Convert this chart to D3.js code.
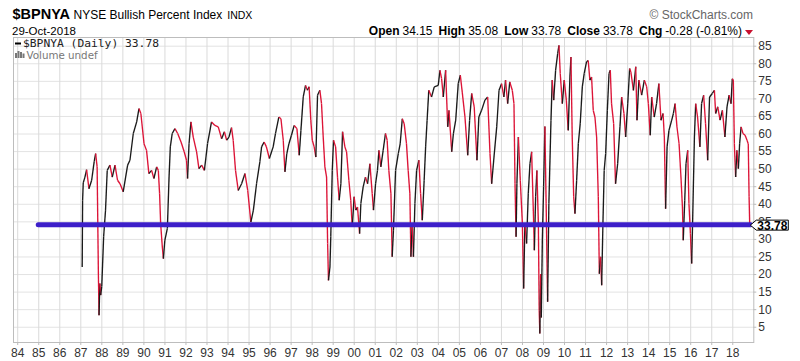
<!DOCTYPE html>
<html>
<head>
<meta charset="utf-8">
<script src="https://cdn.jsdelivr.net/npm/d3@7"></script>
<style>
  body { margin: 0; background: #fff; }
  svg { display: block; font-family: "Liberation Sans", Arial, sans-serif; }
</style>
</head>
<body>
<div id="chart"></div>
<script>
// Data (decimal years)
const dates = [
  1987.09, 1987.11, 1987.14, 1987.22, 1987.30, 1987.41, 1987.54, 1987.66, 1987.73, 1987.80,
  1987.86, 1987.89, 1987.93, 1987.97, 1988.02, 1988.11, 1988.20, 1988.28, 1988.41, 1988.52,
  1988.65, 1988.77, 1988.89, 1989.04, 1989.25, 1989.36, 1989.52, 1989.68, 1989.79, 1989.88,
  1990.03, 1990.15, 1990.26, 1990.39, 1990.50, 1990.63, 1990.71, 1990.77, 1990.82, 1990.90,
  1990.95, 1991.02, 1991.14, 1991.22, 1991.28, 1991.37, 1991.50, 1991.63, 1991.79, 1991.94,
  1992.05, 1992.10, 1992.17, 1992.26, 1992.37, 1992.53, 1992.64, 1992.77, 1992.90, 1993.05,
  1993.24, 1993.40, 1993.56, 1993.72, 1993.85, 1993.96, 1994.07, 1994.19, 1994.27, 1994.38,
  1994.51, 1994.67, 1994.83, 1994.96, 1995.11, 1995.23, 1995.38, 1995.54, 1995.62, 1995.74,
  1995.85, 1995.99, 1996.17, 1996.28, 1996.44, 1996.54, 1996.65, 1996.73, 1996.82, 1996.92,
  1997.04, 1997.17, 1997.30, 1997.41, 1997.49, 1997.60, 1997.71, 1997.80, 1997.88, 1997.96,
  1998.03, 1998.12, 1998.20, 1998.28, 1998.39, 1998.47, 1998.55, 1998.63, 1998.71, 1998.76,
  1998.80, 1998.87, 1998.91, 1998.98, 1999.04, 1999.14, 1999.23, 1999.31, 1999.39, 1999.47,
  1999.58, 1999.66, 1999.77, 1999.86, 1999.93, 2000.02, 2000.10, 2000.18, 2000.28, 2000.34,
  2000.45, 2000.56, 2000.66, 2000.77, 2000.88, 2000.94, 2001.04, 2001.13, 2001.20, 2001.29,
  2001.40, 2001.51, 2001.59, 2001.67, 2001.77, 2001.83, 2001.89, 2001.99, 2002.12, 2002.21,
  2002.31, 2002.40, 2002.51, 2002.59, 2002.67, 2002.72, 2002.78, 2002.84, 2002.91, 2002.99,
  2003.10, 2003.18, 2003.26, 2003.35, 2003.42, 2003.49, 2003.57, 2003.70, 2003.83, 2004.02,
  2004.10, 2004.18, 2004.26, 2004.37, 2004.47, 2004.53, 2004.66, 2004.74, 2004.85, 2004.97,
  2005.07, 2005.16, 2005.29, 2005.42, 2005.51, 2005.61, 2005.73, 2005.86, 2005.95, 2006.08,
  2006.24, 2006.37, 2006.48, 2006.56, 2006.67, 2006.80, 2006.91, 2007.03, 2007.14, 2007.22,
  2007.32, 2007.42, 2007.54, 2007.62, 2007.67, 2007.72, 2007.76, 2007.83, 2007.92, 2008.02,
  2008.08, 2008.14, 2008.22, 2008.30, 2008.38, 2008.46, 2008.54, 2008.59, 2008.65, 2008.71,
  2008.78, 2008.82, 2008.85, 2008.89, 2008.92, 2008.97, 2009.03, 2009.09, 2009.15, 2009.22,
  2009.28, 2009.38, 2009.44, 2009.51, 2009.60, 2009.70, 2009.76, 2009.82, 2009.92, 2010.01,
  2010.11, 2010.20, 2010.28, 2010.33, 2010.39, 2010.46, 2010.52, 2010.60, 2010.68, 2010.77,
  2010.87, 2010.96, 2011.07, 2011.15, 2011.23, 2011.31, 2011.39, 2011.47, 2011.55, 2011.63,
  2011.68, 2011.74, 2011.79, 2011.85, 2011.91, 2011.98, 2012.06, 2012.14, 2012.20, 2012.26,
  2012.36, 2012.45, 2012.55, 2012.66, 2012.74, 2012.85, 2012.93, 2013.03, 2013.12, 2013.18,
  2013.30, 2013.41, 2013.47, 2013.56, 2013.69, 2013.82, 2013.93, 2014.01, 2014.10, 2014.17,
  2014.29, 2014.40, 2014.51, 2014.61, 2014.71, 2014.77, 2014.83, 2014.90, 2014.99, 2015.12,
  2015.20, 2015.28, 2015.37, 2015.47, 2015.56, 2015.63, 2015.67, 2015.74, 2015.80, 2015.88,
  2015.94, 2016.01, 2016.07, 2016.13, 2016.20, 2016.26, 2016.35, 2016.46, 2016.54, 2016.64,
  2016.73, 2016.83, 2016.92, 2017.05, 2017.15, 2017.21, 2017.31, 2017.42, 2017.53, 2017.65,
  2017.75, 2017.85, 2017.94, 2018.00, 2018.05, 2018.10, 2018.16, 2018.22, 2018.29, 2018.35,
  2018.42, 2018.51, 2018.61, 2018.70, 2018.76, 2018.80, 2018.83
];
const values = [
  22, 41, 46, 47.6, 49.7, 44.3, 46.7, 52, 54.3, 50.5,
  20, 8.3, 17.3, 14, 16.5, 30.6, 38.2, 49.5, 51, 47.6,
  51, 46.7, 45.7, 43.4, 51, 52.4, 60, 63.3, 67.1, 65.7,
  57.1, 55.2, 48.6, 49.5, 47.2, 50.5, 49.5, 42.9, 34.4, 27.7,
  24.4, 29.6, 33, 47.6, 56.2, 60, 61.4, 60, 57.6, 54.8,
  52.4, 47.2, 57.1, 63.3, 59, 54.8, 50, 51, 49.5, 57.1,
  63.3, 62.3, 61.9, 58.5, 60.5, 58.1, 59, 61.7, 58.1, 49.5,
  43.8, 45.7, 48.6, 43.8, 34.8, 38.2, 45.7, 52, 56.2, 57.6,
  56.2, 52.9, 56.2, 60, 64.7, 64.2, 58.1, 49.1, 54.3, 57.1,
  59.5, 62.3, 61.4, 53.8, 60.9, 70.4, 73.7, 72.3, 73.3, 63.8,
  58.1, 56.2, 53.3, 70.9, 72.3, 68.5, 59, 50.5, 47.6, 28.7,
  18.2, 22, 30.6, 49.5, 58.1, 56.2, 47.6, 41, 45.7, 60.5,
  56.2, 54.8, 46.7, 41, 33.4, 42, 38.2, 39.1, 31.5, 40.1,
  44.8, 47.6, 45.7, 51.4, 42.9, 38.2, 45.7, 49.5, 55.2, 50.5,
  55.2, 60, 58.1, 49.5, 42.9, 24.9, 32.5, 49.5, 54.3, 57.1,
  64.2, 62.8, 57.1, 49.5, 42.9, 24.9, 34.4, 24.9, 40.1, 49.5,
  52.4, 42.9, 35.3, 46.7, 56.2, 63.8, 72.3, 70.4, 73.3, 73.7,
  78, 75.6, 70.4, 78, 61.9, 66.6, 54.8, 60, 63.8, 74.2,
  76.6, 71.8, 64.7, 53.8, 63.8, 71.4, 67.6, 52.4, 64.7, 66.6,
  69.5, 70.4, 54.3, 45.7, 53.3, 61.9, 72.3, 74.2, 70.4, 75.2,
  68.5, 74.7, 72.3, 68.5, 45.7, 30.6, 45.7, 59, 46.7, 34.4,
  15.9, 34.4, 28.7, 42.9, 51.4, 54.8, 38.2, 26.8, 42, 49.5,
  34.4, 9.7, 3.1, 20, 7.6, 30, 45, 62, 40, 12.1,
  40.1, 63.8, 75.2, 69.5, 78, 82.8, 85.1, 77.1, 68.5, 75.2,
  69.5, 60.9, 76.1, 81.8, 59, 42, 37.2, 46.7, 57.1, 62.8,
  73.3, 77.1, 80.4, 80.8, 75.2, 76.1, 66.6, 64.7, 59, 42,
  20.1, 24.9, 16.8, 34.4, 49.5, 54.3, 66.6, 77.1, 78, 68.5,
  62.8, 45.7, 51.4, 61.9, 70.4, 65.7, 59, 68.5, 78.5, 77.5,
  72.3, 79, 63.8, 75.2, 70.9, 75.2, 73.3, 68.5, 59.5, 70.4,
  64.7, 68.5, 74.2, 63.8, 65.7, 59, 38.6, 56.2, 60.9, 63.8,
  65.7, 68.5, 61.9, 57.1, 47.6, 39.1, 29.6, 41, 51.4, 55.2,
  40.1, 31.5, 23, 39.1, 59, 68.5, 64.7, 56.2, 68.5, 70.9,
  62.8, 52.4, 70.4, 71.4, 72.3, 65.7, 67.6, 63.8, 66.6, 59,
  67.6, 70.9, 68.5, 75.6, 75.2, 57.1, 47.6, 55.2, 50, 57.1,
  61.9, 60, 59.5, 58.1, 57.1, 42, 33.78
];
const xTickYears = d3.range(1984, 2019);
const yTickValues = d3.range(5, 90, 5);
const lastValue = 33.78;
const refLevel = 33.78;
const refStart = 1985;
const quote = { open: "34.15", high: "35.08", low: "33.78", close: "33.78", chg: "-0.28 (-0.81%)" };

const W = 800, H = 361;
const plot = { left: 13, right: 753.3, top: 37, bottom: 342 };

const svg = d3.select("#chart").append("svg")
  .attr("width", W).attr("height", H);

const x = d3.scaleLinear().domain([1983.8, 2019.0]).range([plot.left, plot.right]);
const y = d3.scaleLinear().domain([0, 85]).range([344.3, 45.7]);

// Grid
const gy = svg.append("g")
  .attr("transform", `translate(${plot.left},0)`)
  .call(d3.axisRight(y).tickValues(yTickValues).tickSize(plot.right - plot.left).tickFormat(""));
gy.select(".domain").remove();
gy.selectAll("line").attr("stroke", "#e3e3e3");

const gx = svg.append("g")
  .attr("transform", `translate(0,${plot.bottom})`)
  .call(d3.axisBottom(x).tickValues(xTickYears).tickSize(-(plot.bottom - plot.top)).tickFormat(""));
gx.select(".domain").remove();
gx.selectAll("line").attr("stroke", "#dadada");

// Frame
svg.append("rect")
  .attr("x", plot.left + 0.5).attr("y", plot.top + 0.5)
  .attr("width", plot.right - plot.left).attr("height", plot.bottom - plot.top)
  .attr("fill", "none").attr("stroke", "#bdbdbd");

// Bottom axis labels
const ax = svg.append("g")
  .attr("transform", `translate(0,${plot.bottom})`)
  .call(d3.axisBottom(x).tickValues(xTickYears).tickSize(3).tickPadding(3)
    .tickFormat(d => String(d % 100).padStart(2, "0")));
ax.select(".domain").remove();
ax.selectAll("line").attr("stroke", "#bbb");
ax.selectAll("text").attr("font-size", 12).attr("fill", "#333")
  .attr("font-family", "Liberation Sans, Arial, sans-serif");

// Right axis labels
const ay = svg.append("g")
  .attr("transform", `translate(${plot.right},0)`)
  .call(d3.axisRight(y).tickValues(yTickValues).tickSize(3).tickPadding(2));
ay.select(".domain").remove();
ay.selectAll("line").attr("stroke", "#bbb");
ay.selectAll("text").attr("font-size", 12).attr("fill", "#333")
  .attr("font-family", "Liberation Sans, Arial, sans-serif");

// Series: black on up moves, red on down moves
const pts = dates.map((d, i) => [d, values[i]]);
const seg = svg.append("g").attr("fill", "none").attr("stroke-width", 1.35);
for (let i = 1; i < pts.length; i++) {
  const up = pts[i][1] >= pts[i - 1][1];
  seg.append("path")
    .attr("d", d3.line().x(p => x(p[0])).y(p => y(p[1]))([pts[i - 1], pts[i]]))
    .attr("stroke", up ? "#1a1a1a" : "#dc1437")
    .attr("stroke-linejoin", "round");
}

// Blue reference line
svg.append("line")
  .attr("x1", x(refStart)).attr("x2", x(dates[dates.length - 1]) + 1)
  .attr("y1", y(refLevel) - 0.8).attr("y2", y(refLevel) - 0.8)
  .attr("stroke", "#3d1fc9").attr("stroke-width", 5).attr("stroke-linecap", "round");

// Last value tag
const ty = y(lastValue) - 0.5;
const tx = plot.right - 3;
svg.append("path")
  .attr("d", `M${tx},${ty} L${tx + 6},${ty - 5} L${tx + 38},${ty - 5} L${tx + 38},${ty + 5} L${tx + 6},${ty + 5} Z`)
  .attr("fill", "#fff").attr("stroke", "#000").attr("stroke-width", 1);
svg.append("text")
  .attr("x", tx + 22).attr("y", ty + 4.5)
  .attr("text-anchor", "middle").attr("font-size", 12).attr("font-weight", "bold")
  .text(lastValue.toFixed(2));

// Legend in plot
svg.append("line").attr("x1", 15).attr("x2", 21).attr("y1", 43.5).attr("y2", 43.5)
  .attr("stroke", "#000").attr("stroke-width", 2);
svg.append("text").attr("x", 23).attr("y", 46.5)
  .attr("font-family", "DejaVu Sans Mono, monospace").attr("font-size", 11.3).attr("fill", "#222")
  .text(`$BPNYA (Daily) ${lastValue.toFixed(2)}`);
const vi = svg.append("g").attr("fill", "#777");
[[15, 53, 2, 5], [17.5, 51, 2, 7], [20, 52, 2, 6], [22.5, 53.5, 2, 4.5]].forEach(b =>
  vi.append("rect").attr("x", b[0]).attr("y", b[1]).attr("width", b[2]).attr("height", b[3]));
svg.append("text").attr("x", 26.5).attr("y", 58.5)
  .attr("font-family", "DejaVu Sans, sans-serif").attr("font-size", 10.3).attr("fill", "#777")
  .text("Volume undef");

// Header
const title = svg.append("text").attr("x", 12.5).attr("y", 19);
title.append("tspan").attr("font-weight", "bold").attr("font-size", 14.5).text("$BPNYA");
title.append("tspan").attr("dx", 3.5).attr("font-size", 12).text("NYSE Bullish Percent Index");
title.append("tspan").attr("dx", 5).attr("font-size", 10.5).text("INDX");

svg.append("text").attr("x", 12).attr("y", 34.5).attr("font-size", 11.5).text("29-Oct-2018");

svg.append("text").attr("x", 753).attr("y", 19).attr("text-anchor", "end")
  .attr("font-size", 12).attr("fill", "#666").text("\u00A9 StockCharts.com");

const q = svg.append("text").attr("x", 742).attr("y", 34.5).attr("text-anchor", "end").attr("font-size", 12);
[["Open", quote.open], ["High", quote.high], ["Low", quote.low], ["Close", quote.close], ["Chg", quote.chg]]
  .forEach((p, i) => {
    q.append("tspan").attr("font-weight", "bold").attr("dx", i ? 6 : 0).text(p[0]);
    q.append("tspan").attr("dx", 3).text(p[1]);
  });
svg.append("path").attr("d", "M745,30 L753,30 L749,35 Z").attr("fill", "#c8102e");
</script>
</body>
</html>
